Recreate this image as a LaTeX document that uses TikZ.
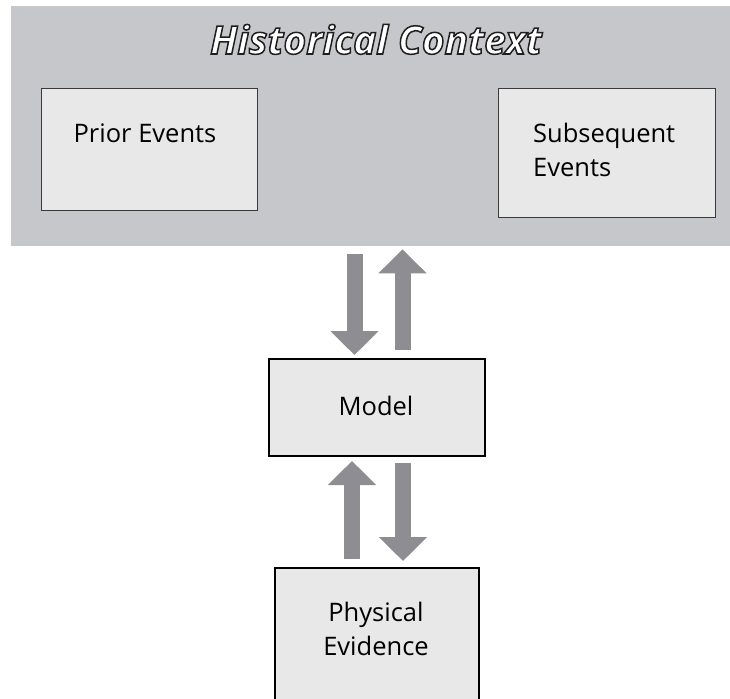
\documentclass[tikz,border=0pt]{standalone}
\usepackage{fontspec}
\setmainfont{Open Sans}
\usetikzlibrary{arrows.meta}

\definecolor{ctxgrey}{HTML}{C6C7CA}
\definecolor{boxgrey}{HTML}{E8E8E9}
\definecolor{arrowgrey}{HTML}{8E8E92}
\definecolor{edgegrey}{HTML}{3A3A3A}

% white letters with a dark outline (PDF text render mode 2)
\newcommand\outlinedtext[1]{%
  \special{pdf:literal 2 Tr 1.5 w 0.12 0.12 0.12 RG 1 1 1 rg}#1\special{pdf:literal 0 Tr 0 g 0 G}}

\tikzset{
  context/.style={fill=ctxgrey, draw=none, inner sep=0pt, anchor=north west},
  eventbox/.style={fill=boxgrey, draw=edgegrey, line width=1.2pt, inner sep=0pt, anchor=north west},
  mainbox/.style={fill=boxgrey, draw=black, line width=2pt, inner sep=0pt, anchor=north west},
  boxtext/.style={font=\fontsize{25.5}{33.5}\selectfont, align=center, inner sep=0pt, anchor=base},
  bigarrow/.style={draw=arrowgrey, line width=16pt, line cap=butt,
    -{Triangle[width=47pt, length=24pt, fill=arrowgrey]}},
}

\begin{document}
\begin{tikzpicture}[x=1pt, y=-1pt]
  \useasboundingbox (0,0) rectangle (730,698);

  % historical context band
  \node[context, minimum width=719pt, minimum height=240pt] (ctx) at (11,6) {};
  \node[inner sep=0pt, anchor=base, font=\fontsize{39}{44}\selectfont\bfseries\itshape]
    (title) at (376,54) {\outlinedtext{Historical Context}};

  % event boxes inside the band
  \node[eventbox, minimum width=216pt, minimum height=122pt] (prior) at (41,88) {};
  \node[boxtext] (priorlbl) at (145,142) {Prior Events};

  \node[eventbox, minimum width=217pt, minimum height=129pt] (subseq) at (498,88) {};
  \node[boxtext, align=left, anchor=base west] (subseqlbl) at (533,176) {Subsequent\\Events};

  % model and evidence
  \node[mainbox, minimum width=216pt, minimum height=97pt] (model) at (268,358) {};
  \node[boxtext] (modellbl) at (376,415) {Model};

  \node[mainbox, minimum width=204pt, minimum height=140pt] (evid) at (274,567) {};
  \node[boxtext] (evidlbl) at (376,655) {Physical\\Evidence};

  % exchanges between the context and the model
  \draw[bigarrow] ([xshift=-22.5pt, yshift=-8pt]ctx.south -| model.north)
                 -- ([xshift=-22.5pt, yshift=3pt]model.north);
  \draw[bigarrow] ([xshift=25.5pt, yshift=8pt]model.north)
                 -- ([xshift=25.5pt, yshift=-3pt]ctx.south -| model.north);

  % exchanges between the evidence and the model
  \draw[bigarrow] ([xshift=-25pt, yshift=8pt]evid.north)
                 -- ([xshift=-25pt, yshift=-4pt]model.south);
  \draw[bigarrow] ([xshift=26pt, yshift=-6pt]model.south)
                 -- ([xshift=26pt, yshift=6pt]evid.north);
\end{tikzpicture}
\end{document}
